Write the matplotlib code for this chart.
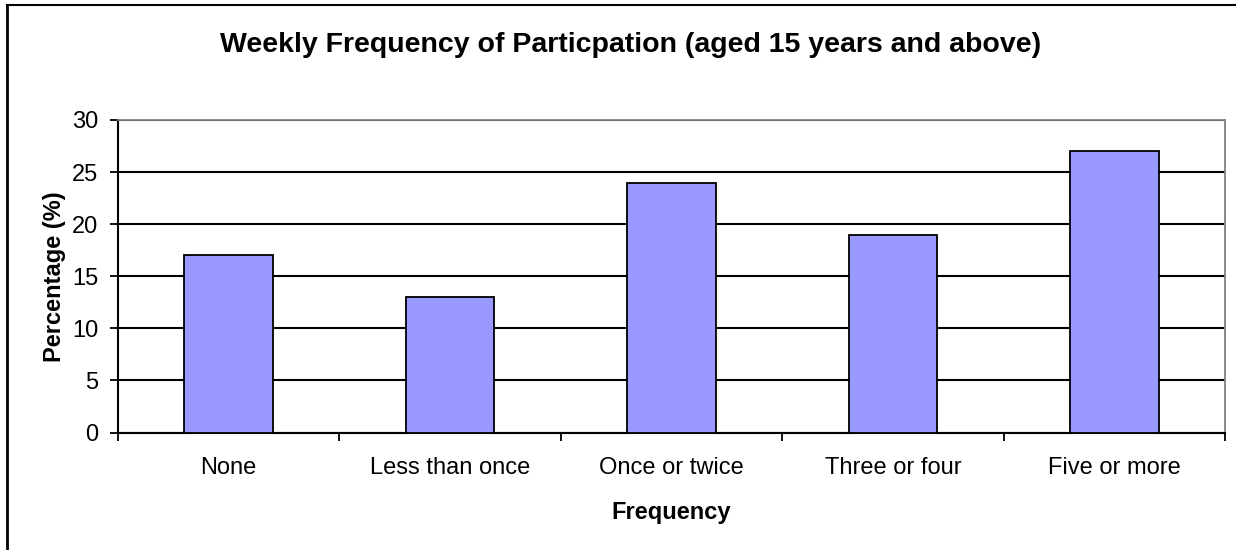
import matplotlib
matplotlib.use("Agg")
import matplotlib.pyplot as plt
from matplotlib.lines import Line2D
import numpy as np

categories = ["None", "Less than once", "Once or twice", "Three or four", "Five or more"]
values = [17, 13, 24, 19, 27]
yticks = [0, 5, 10, 15, 20, 25, 30]

plt.rcParams['font.family'] = ['Liberation Sans', 'DejaVu Sans']

W, H = 1236, 550
fig = plt.figure(figsize=(W/100, H/100), dpi=100)
ax = fig.add_axes([118/W, (H-432.5)/H, (1225-118)/W, (432.5-120)/H])

x = np.arange(len(categories))
ax.bar(x, values, width=0.4, color="#9999ff", edgecolor="black", linewidth=1.3, zorder=3)
ax.set_xlim(-0.5, len(categories)-0.5)
ax.set_ylim(0, 30)
ax.set_yticks(yticks)
ax.set_yticklabels([str(v) for v in yticks], fontsize=17)
ax.yaxis.grid(True, color="black", linewidth=1.5, zorder=0)
ax.set_axisbelow(True)

ax.set_xticks(x)
ax.set_xticklabels(categories, fontsize=17)
ax.tick_params(axis='x', which='major', length=0, pad=17.5)
ax.set_xticks(np.arange(len(categories)+1)-0.5, minor=True)
ax.tick_params(axis='x', which='minor', length=6, width=1.3, direction='out')
ax.tick_params(axis='y', length=6, width=1.3, direction='out', pad=8)

for s in ['top', 'right']:
    ax.spines[s].set_color('#808080')
    ax.spines[s].set_linewidth(1.3)
for s in ['left', 'bottom']:
    ax.spines[s].set_color('black')
    ax.spines[s].set_linewidth(1.5)

ax.set_xlabel("Frequency", fontsize=17, fontweight='bold', labelpad=16)
ax.set_ylabel("Percentage (%)", fontsize=17, fontweight='bold', labelpad=4.3)
fig.text(631/W, (H-51.7)/H, "Weekly Frequency of Particpation (aged 15 years and above)",
         ha='center', va='baseline', fontsize=20.5, fontweight='bold')

# outer chart frame (only top and left edges visible)
fig.add_artist(Line2D([7/W, 1.0], [(H-4.5)/H, (H-4.5)/H], transform=fig.transFigure,
                      color='black', linewidth=1.5))
fig.add_artist(Line2D([7/W, 7/W], [0, (H-4.5)/H], transform=fig.transFigure,
                      color='black', linewidth=2))

fig.savefig("out.png", dpi=100)
